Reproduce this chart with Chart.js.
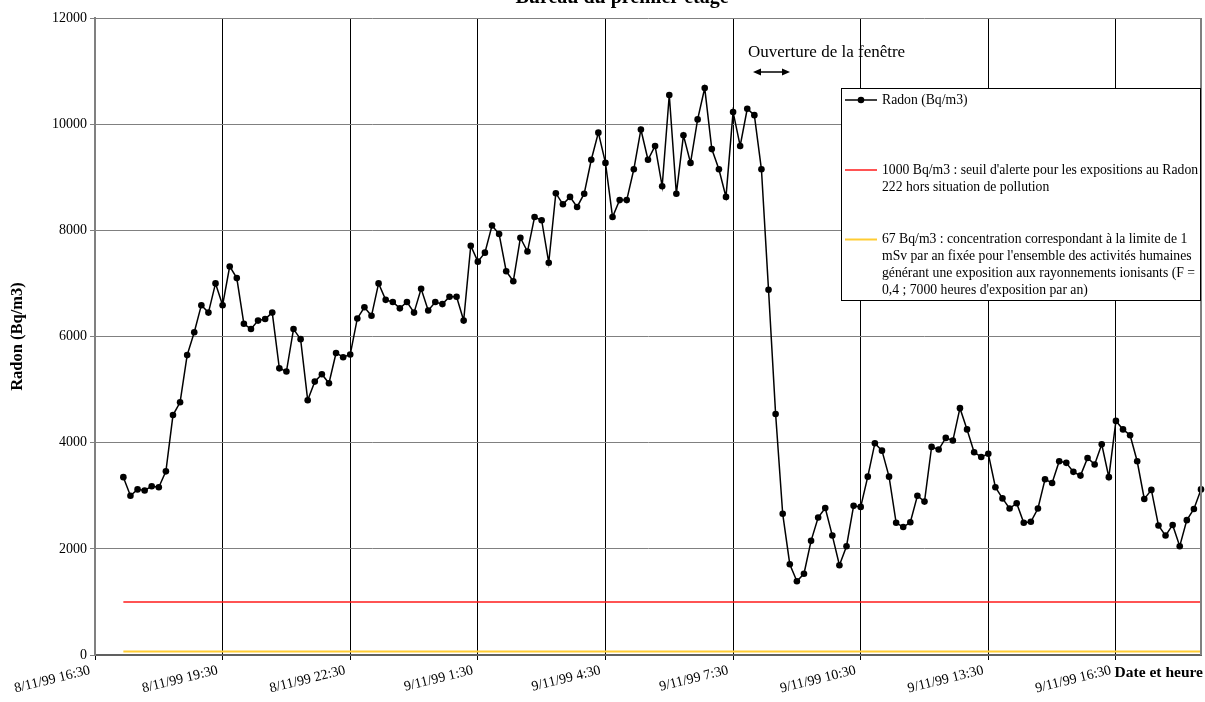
<!DOCTYPE html>
<html>
<head>
<meta charset="utf-8">
<script src="https://cdn.jsdelivr.net/npm/chart.js@4/dist/chart.umd.min.js"></script>
<style>
  html, body { margin: 0; padding: 0; background: #fff; }
  canvas { display: block; }
</style>
</head>
<body>
<canvas id="radon" width="1205" height="702"></canvas>
<script>
// Time axis: one category every 10 minutes, 8/11/99 16:30 -> 9/11/99 18:30
const categories = [];
for (let m = 16 * 60 + 30; m <= 24 * 60 + 18 * 60 + 30; m += 10) {
  const day = 8 + Math.floor(m / 1440);
  const mm = m % 1440;
  categories.push(day + '/11/99 ' + Math.floor(mm / 60) + ':' + String(mm % 60).padStart(2, '0'));
}

// Labelled ticks, every 3 hours (18 categories)
const tickLabels = [
  '8/11/99 16:30', '8/11/99 19:30', '8/11/99 22:30', '9/11/99 1:30', '9/11/99 4:30',
  '9/11/99 7:30', '9/11/99 10:30', '9/11/99 13:30', '9/11/99 16:30'
];
const tickEvery = 18;

// Radon measurements (Bq/m3), first reading at 17:10
const firstReading = '8/11/99 17:10';
const radonValues = [
  3350, 3000, 3120, 3100, 3180, 3160, 3460, 4520, 4760, 5650,
  6080, 6590, 6450, 7000, 6590, 7320, 7100, 6240, 6140, 6300,
  6330, 6450, 5400, 5340, 6140, 5950, 4800, 5150, 5290, 5120,
  5690, 5610, 5660, 6340, 6550, 6390, 7000, 6690, 6650, 6530,
  6650, 6450, 6900, 6490, 6650, 6610, 6750, 6750, 6300, 7710,
  7410, 7580, 8090, 7930, 7230, 7040, 7860, 7600, 8250, 8190,
  7390, 8700, 8490, 8630, 8440, 8690, 9330, 9840, 9270, 8250,
  8570, 8570, 9150, 9900, 9330, 9590, 8830, 10550, 8690, 9790,
  9270, 10090, 10680, 9530, 9150, 8630, 10230, 9590, 10290, 10170,
  9150, 6880, 4540, 2660, 1710, 1390, 1530, 2150, 2590, 2770,
  2250, 1690, 2050, 2810, 2790, 3360, 3990, 3850, 3360, 2490,
  2410, 2500, 3000, 2890, 3920, 3870, 4090, 4040, 4650, 4250,
  3820, 3730, 3790, 3160, 2950, 2760, 2860, 2490, 2510, 2760,
  3310, 3240, 3650, 3620, 3450, 3380, 3710, 3590, 3970, 3350,
  4410, 4250, 4140, 3650, 2940, 3110, 2440, 2250, 2450, 2050,
  2540, 2750, 3120
];

// Reference thresholds (Bq/m3)
const alertThreshold = 1000;
const doseLimitLevel = 67;

const legendRadon = ['Radon (Bq/m3)'];
const legendAlert = [
  "1000 Bq/m3 : seuil d'alerte pour les expositions au Radon",
  '222 hors situation de pollution'
];
const legendDose = [
  '67 Bq/m3 : concentration correspondant à la limite de 1',
  "mSv par an fixée pour l'ensemble des activités humaines",
  'générant une exposition aux rayonnements ionisants (F =',
  "0,4 ; 7000 heures d'exposition par an)"
];

const lead = categories.indexOf(firstReading);
const pad = (arr) => Array(lead).fill(null).concat(arr);
const constantSeries = (v) => pad(radonValues.map(() => v));

const SERIF = "'Liberation Serif', 'Times New Roman', serif";

const overlay = {
  id: 'overlay',
  afterDraw(chart) {
    const ctx = chart.ctx;
    const area = chart.chartArea;
    ctx.save();

    // right frame of the plot area
    ctx.strokeStyle = '#808080';
    ctx.lineWidth = 2;
    ctx.beginPath();
    ctx.moveTo(area.right, area.top);
    ctx.lineTo(area.right, area.bottom);
    ctx.stroke();

    // chart title
    ctx.fillStyle = '#000';
    ctx.textAlign = 'center';
    ctx.textBaseline = 'alphabetic';
    ctx.font = 'bold 20px ' + SERIF;
    ctx.fillText('Bureau du premier étage', 622, 3);

    // axis titles
    ctx.font = 'bold 15.5px ' + SERIF;
    ctx.textAlign = 'right';
    ctx.fillText('Date et heure', 1203, 677);
    ctx.save();
    ctx.translate(18, (area.top + area.bottom) / 2);
    ctx.rotate(-Math.PI / 2);
    ctx.textAlign = 'center';
    ctx.textBaseline = 'middle';
    ctx.font = 'bold 16.5px ' + SERIF;
    ctx.fillText('Radon (Bq/m3)', 0, 0);
    ctx.restore();

    // window opening note with double arrow
    ctx.font = '17px ' + SERIF;
    ctx.textAlign = 'left';
    ctx.textBaseline = 'alphabetic';
    ctx.fillText('Ouverture de la fenêtre', 748, 57);
    const ay = 72, ax1 = 753, ax2 = 790, ah = 8, aw = 3.5;
    ctx.strokeStyle = '#000';
    ctx.lineWidth = 1.5;
    ctx.beginPath();
    ctx.moveTo(ax1 + ah - 1, ay);
    ctx.lineTo(ax2 - ah + 1, ay);
    ctx.stroke();
    ctx.beginPath();
    ctx.moveTo(ax1, ay); ctx.lineTo(ax1 + ah, ay - aw); ctx.lineTo(ax1 + ah, ay + aw); ctx.closePath();
    ctx.moveTo(ax2, ay); ctx.lineTo(ax2 - ah, ay - aw); ctx.lineTo(ax2 - ah, ay + aw); ctx.closePath();
    ctx.fill();

    // legend box
    const bx = 841, by = 88, bw = area.right - 841, bh = 213;
    ctx.fillStyle = '#fff';
    ctx.fillRect(bx, by, bw, bh);
    ctx.strokeStyle = '#000';
    ctx.lineWidth = 1;
    ctx.strokeRect(bx + 0.5, by + 0.5, bw - 1, bh - 1);

    const entries = [
      { ds: chart.data.datasets[0], lines: legendRadon, y: 100 },
      { ds: chart.data.datasets[1], lines: legendAlert, y: 170 },
      { ds: chart.data.datasets[2], lines: legendDose, y: 239.5 }
    ];
    const lineH = 17;
    ctx.font = '13.7px ' + SERIF;
    ctx.textBaseline = 'middle';
    ctx.textAlign = 'left';
    for (const e of entries) {
      ctx.strokeStyle = e.ds.borderColor;
      ctx.lineWidth = e.ds.borderWidth;
      ctx.beginPath();
      ctx.moveTo(845, e.y);
      ctx.lineTo(877, e.y);
      ctx.stroke();
      if (e.ds.pointRadius > 0) {
        ctx.fillStyle = e.ds.pointBackgroundColor;
        ctx.beginPath();
        ctx.arc(861, e.y, e.ds.pointRadius, 0, Math.PI * 2);
        ctx.fill();
      }
      ctx.fillStyle = '#000';
      e.lines.forEach((t, i) => ctx.fillText(t, 882, e.y + i * lineH));
    }
    ctx.restore();
  }
};

new Chart(document.getElementById('radon'), {
  type: 'line',
  data: {
    labels: categories,
    datasets: [
      {
        label: legendRadon[0],
        data: pad(radonValues),
        borderColor: '#000',
        borderWidth: 1.5,
        pointRadius: 3.3,
        pointBackgroundColor: '#000',
        pointBorderColor: '#000',
        pointBorderWidth: 0,
        tension: 0
      },
      {
        label: legendAlert[0],
        data: constantSeries(alertThreshold),
        borderColor: '#ff1a1a',
        borderWidth: 1.5,
        pointRadius: 0
      },
      {
        label: legendDose[0],
        data: constantSeries(doseLimitLevel),
        borderColor: '#ffcc33',
        borderWidth: 2,
        pointRadius: 0
      }
    ]
  },
  options: {
    responsive: false,
    animation: false,
    devicePixelRatio: 1,
    layout: { padding: { top: 18, right: 4, left: 0, bottom: 0 } },
    plugins: {
      legend: { display: false },
      title: { display: false },
      tooltip: { enabled: false }
    },
    scales: {
      x: {
        type: 'category',
        offset: false,
        afterFit: (s) => { s.height = 47; },
        grid: {
          color: '#000',
          lineWidth: 1,
          tickLength: 5
        },
        border: { color: '#606060', width: 2 },
        ticks: {
          autoSkip: false,
          minRotation: 14,
          maxRotation: 14,
          padding: 2,
          labelOffset: -5,
          color: '#000',
          font: { family: SERIF, size: 14 },
          callback: (v, i) => (i % tickEvery === 0 ? tickLabels[i / tickEvery] : null)
        }
      },
      y: {
        min: 0,
        max: 12000,
        afterFit: (s) => { s.width = 95; },
        grid: { color: '#808080', lineWidth: 1, tickLength: 5 },
        border: { color: '#808080', width: 2 },
        ticks: {
          stepSize: 2000,
          padding: 3,
          color: '#000',
          font: { family: SERIF, size: 14 },
          callback: (v) => String(v)
        }
      }
    }
  },
  plugins: [overlay]
});
</script>
</body>
</html>
